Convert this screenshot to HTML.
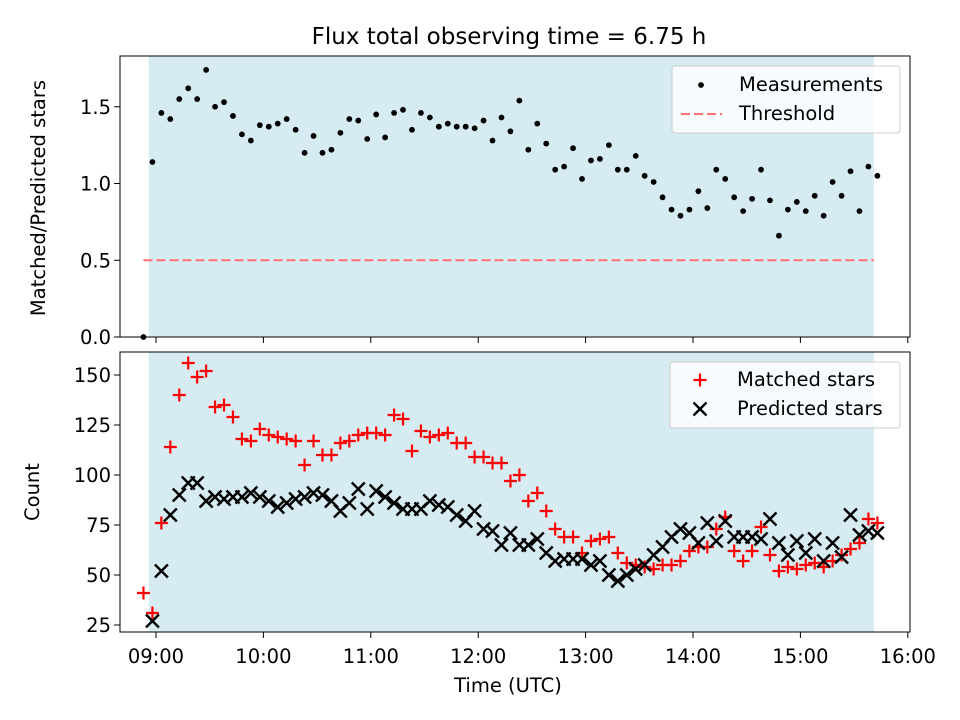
<!DOCTYPE html>
<html><head><meta charset="utf-8"><style>
body{margin:0;background:#fff}
svg{display:block;font-family:"DejaVu Sans","Liberation Sans",sans-serif}
</style></head><body>
<svg id="chart" width="960" height="720" viewBox="0 0 960 720" xmlns="http://www.w3.org/2000/svg">
<text x="509" y="44" font-size="23" text-anchor="middle">Flux total observing time = 6.75 h</text>
<g id="topPanel"></g>
<g id="botPanel"></g>
</svg>
<script>
// minutes relative to 09:00
const timesMin=[-7,-2,3,8,13,18,23,28,33,38,43,48,53,58,63,68,73,78,83,88,93,98,103,108,113,118,123,128,133,138,143,148,153,158,163,168,173,178,183,188,193,198,203,208,213,218,223,228,233,238,243,248,253,258,263,268,273,278,283,288,293,298,303,308,313,318,323,328,333,338,343,348,353,358,363,368,373,378,383,388,393,398,403];
const ratio=[0,1.14,1.46,1.42,1.55,1.62,1.55,1.74,1.50,1.53,1.44,1.32,1.28,1.38,1.37,1.39,1.42,1.35,1.20,1.31,1.20,1.22,1.33,1.42,1.41,1.29,1.45,1.30,1.46,1.48,1.35,1.46,1.43,1.37,1.39,1.37,1.37,1.36,1.41,1.28,1.43,1.34,1.54,1.22,1.39,1.26,1.09,1.11,1.23,1.03,1.15,1.16,1.25,1.09,1.09,1.18,1.05,1.01,0.91,0.83,0.79,0.83,0.95,0.84,1.09,1.03,0.91,0.82,0.90,1.09,0.89,0.66,0.83,0.88,0.82,0.92,0.79,1.01,0.92,1.08,0.82,1.11,1.05];
const threshold=0.5;
const matched=[41,31,76,114,140,156,149,152,134,135,129,118,117,123,120,119,118,117,105,117,110,110,116,117,120,121,121,120,130,128,112,122,119,120,121,116,116,109,109,106,106,97,100,87,91,82,73,69,69,61,67,68,69,61,56,55,54,53,55,55,57,62,64,64,73,79,62,57,62,74,60,52,54,53,55,56,54,57,60,63,66,78,76];
const predicted=[null,27,52,80,90,96,96,87,89,88,89,89,91,89,87,84,86,88,89,91,90,87,82,86,93,83,92,89,86,83,83,83,87,85,84,80,77,82,73,72,65,71,65,65,68,61,57,58,58,58,55,57,50,47,50,53,55,60,64,69,73,71,66,76,67,77,69,69,69,68,78,66,60,67,61,68,57,66,59,80,70,72,71];
const xTickLabels=["09:00","10:00","11:00","12:00","13:00","14:00","15:00","16:00"];
const xTickMin=[0,60,120,180,240,300,360,420];
const topTicks=[0.0,0.5,1.0,1.5];
const botTicks=[25,50,75,100,125,150];

const NS="http://www.w3.org/2000/svg";
const L=120,R=910,FS=19.5;
const x=m=>156+m/60*107.4;
const yTop=v=>337-v*153.5;
const yBot=v=>625-(v-25)*2;
function mk(tag,attrs,parent,txt){const e=document.createElementNS(NS,tag);for(const k in attrs)e.setAttribute(k,attrs[k]);if(txt!==undefined)e.textContent=txt;parent.appendChild(e);return e;}
const topG=document.getElementById('topPanel'),botG=document.getElementById('botPanel');

function panel(g,y0,y1,name){
  const bg=mk('rect',{x:L,y:y0,width:R-L,height:y1-y0,fill:'#fff'},g);
  
  
  const sh=mk('rect',{x:x(-4),y:y0,width:x(401)-x(-4),height:y1-y0,fill:'#add8e6','fill-opacity':0.5},g);
  
  
}
function frame(g,y0,y1,name,showLabels){
  const f=mk('rect',{x:L,y:y0,width:R-L,height:y1-y0,fill:'none',stroke:'#000','stroke-width':1},g);
  
  
  xTickMin.forEach((m,i)=>{
    const t=mk('line',{x1:x(m),x2:x(m),y1:y1,y2:y1+6,stroke:'#000'},g);
    
    
    if(showLabels){const lb=mk('text',{x:x(m),y:y1+31,'font-size':FS,'text-anchor':'middle'},g,xTickLabels[i]);
      
      }
  });
}
// top panel
panel(topG,56,337,'ratio');
const th=mk('line',{x1:x(-7),x2:x(401),y1:yTop(threshold),y2:yTop(threshold),stroke:'#ff7070','stroke-width':2,'stroke-dasharray':'9,4'},topG);


ratio.forEach((v,i)=>{const c=mk('circle',{cx:x(timesMin[i]),cy:yTop(v),r:2.9,fill:'#000'},topG);
  
  });
frame(topG,56,337,'ratio',false);
topTicks.forEach(v=>{const t=mk('line',{x1:L-6,x2:L,y1:yTop(v),y2:yTop(v),stroke:'#000'},topG);
  
  
  const lb=mk('text',{x:L-9,y:yTop(v)+7,'font-size':FS,'text-anchor':'end'},topG,v.toFixed(1));
  
  });
const yt1=mk('text',{x:45,y:198,'font-size':FS,'text-anchor':'middle',transform:'rotate(-90 45 198)'},topG,'Matched/Predicted stars');


// top legend
const lg1=mk('g',{},topG);


mk('rect',{x:672,y:66,width:228,height:67,rx:3,fill:'#fff','fill-opacity':0.8,stroke:'#ccc'},lg1);
mk('circle',{cx:701,cy:85,r:2.9,fill:'#000'},lg1);
mk('text',{x:739,y:91,'font-size':FS},lg1,'Measurements');
mk('line',{x1:681,x2:722,y1:114,y2:114,stroke:'#ff7070','stroke-width':2,'stroke-dasharray':'9,4'},lg1);
mk('text',{x:739,y:120,'font-size':FS},lg1,'Threshold');

// bottom panel
panel(botG,352,632,'count');
function plus(cx,cy,g){return mk('path',{d:`M${cx-6.5} ${cy}H${cx+6.5}M${cx} ${cy-6.5}V${cy+6.5}`,stroke:'#f00','stroke-width':2.2},g);}
function cross(cx,cy,g){return mk('path',{d:`M${cx-6.5} ${cy-6.5}L${cx+6.5} ${cy+6.5}M${cx-6.5} ${cy+6.5}L${cx+6.5} ${cy-6.5}`,stroke:'#000','stroke-width':2.4},g);}
matched.forEach((v,i)=>{const p=plus(x(timesMin[i]),yBot(v),botG);
  
  });
predicted.forEach((v,i)=>{if(v===null)return;const p=cross(x(timesMin[i]),yBot(v),botG);
  
  });
frame(botG,352,632,'count',true);
botTicks.forEach(v=>{const t=mk('line',{x1:L-6,x2:L,y1:yBot(v),y2:yBot(v),stroke:'#000'},botG);
  
  
  const lb=mk('text',{x:L-9,y:yBot(v)+7,'font-size':FS,'text-anchor':'end'},botG,String(v));
  
  });
const yt2=mk('text',{x:39,y:492,'font-size':FS,'text-anchor':'middle',transform:'rotate(-90 39 492)'},botG,'Count');


const xt=mk('text',{x:508,y:692,'font-size':FS,'text-anchor':'middle'},botG,'Time (UTC)');


const lg2=mk('g',{},botG);


mk('rect',{x:670,y:362,width:230,height:66,rx:3,fill:'#fff','fill-opacity':0.8,stroke:'#ccc'},lg2);
plus(700,380,lg2);
mk('text',{x:737,y:386,'font-size':FS},lg2,'Matched stars');
cross(700,409,lg2);
mk('text',{x:737,y:415,'font-size':FS},lg2,'Predicted stars');
</script>
</body></html>
